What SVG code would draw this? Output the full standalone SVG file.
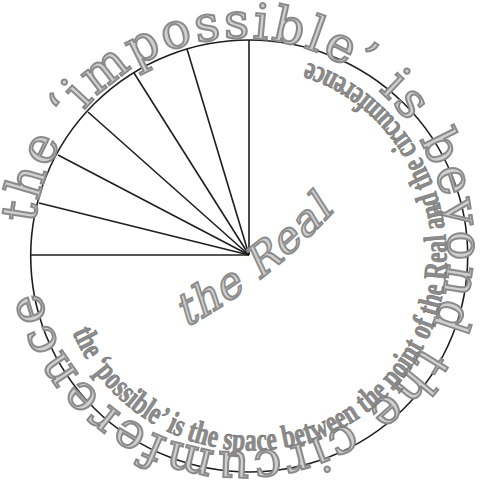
<svg xmlns="http://www.w3.org/2000/svg" width="491" height="501" viewBox="0 0 491 501">
<style>
.ln{stroke:#1e1e1e;stroke-width:1.6;fill:none}
.outer{font-family:"DejaVu Serif","Liberation Serif",serif;font-size:49px;fill:#cfcfcf;stroke:#8a8a8a;stroke-width:2}
.inner{font-family:"Liberation Serif",serif;font-weight:bold;font-size:32px;fill:#8c8c8c;stroke:#6e6e6e;stroke-width:0.6}
.real{font-family:"DejaVu Serif","Liberation Serif",serif;font-size:43px;fill:#cfcfcf;stroke:#8a8a8a;stroke-width:1.8}
</style>
<defs>
<path id="outerPath" d="M 35.1 223.4 A 207 207 0 1 1 446.9 266.6 A 207 207 0 1 1 35.1 223.4"/>
<path id="innerPath" d="M 72.3 332.2 A 195 195 0 1 0 427.7 171.8 A 195 195 0 1 0 72.3 332.2"/>
<path id="realPath" d="M -100 -9 Q 0 9 100 -9"/>
</defs>
<rect width="491" height="501" fill="#fff"/>
<g id="circle">
<ellipse class="ln" cx="249.2" cy="256" rx="218.5" ry="216"/>
</g>
<g id="connectors">
<line class="ln" x1="249" y1="255" x2="30.8" y2="255"/>
<line class="ln" x1="249" y1="255" x2="39" y2="203"/>
<line class="ln" x1="249" y1="255" x2="58" y2="155"/>
<line class="ln" x1="249" y1="255" x2="88" y2="112"/>
<line class="ln" x1="249" y1="255" x2="134" y2="73"/>
<line class="ln" x1="249" y1="255" x2="187" y2="49"/>
<line class="ln" x1="249" y1="255" x2="249" y2="40"/>
</g>
<g id="outer-label">
<text class="outer"><textPath href="#outerPath" textLength="1232" lengthAdjust="spacing">the ‘impossible’ is beyond the circumference</textPath></text>
</g>
<g id="inner-label">
<text class="inner"><textPath href="#innerPath" textLength="788" lengthAdjust="spacingAndGlyphs">the ‘possible’ is the space between the point of the Real and the circumference</textPath></text>
</g>
<g id="the-real" transform="translate(263 277) rotate(-38) skewX(-14)">
<text class="real" text-anchor="middle"><textPath href="#realPath" startOffset="50%" textLength="190" lengthAdjust="spacing">the Real</textPath></text>
</g>
</svg>
